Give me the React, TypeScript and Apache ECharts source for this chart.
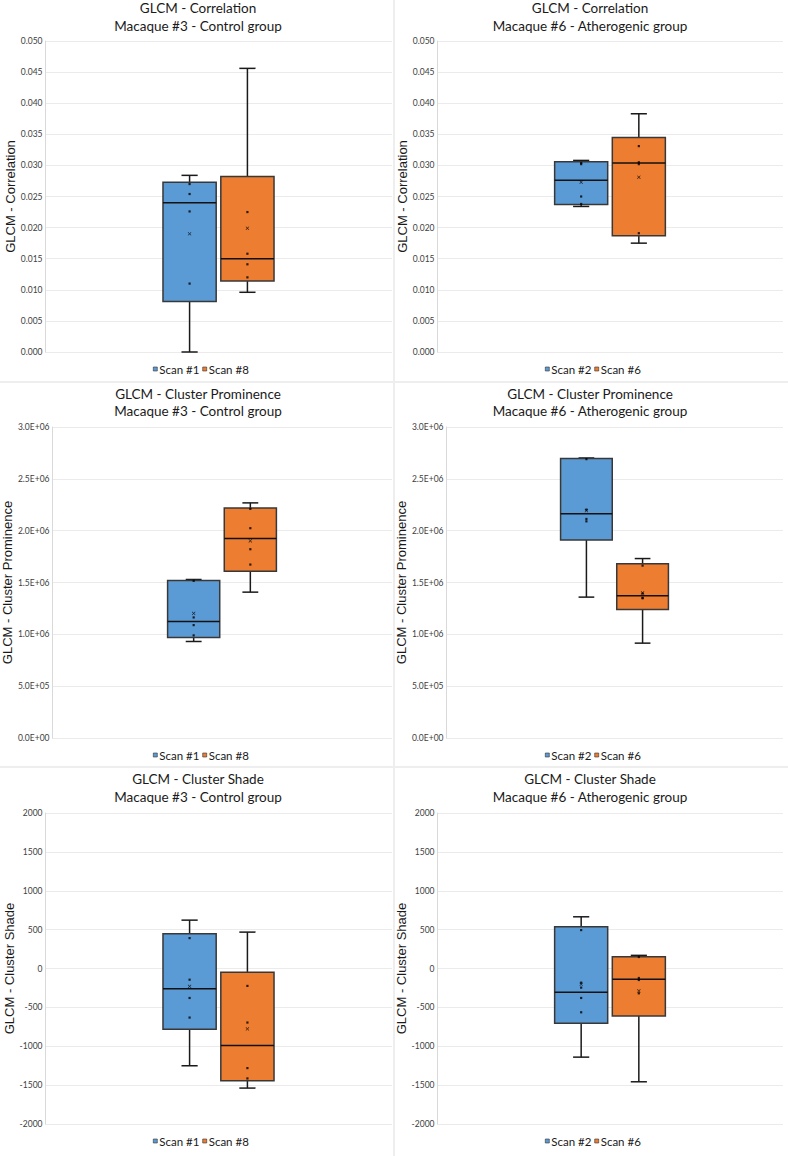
import React, { useEffect, useRef } from "react";
import * as echarts from "echarts";

// ---------- data ----------
const scanNamesM3 = ["Scan #1", "Scan #8"];
const scanNamesM6 = ["Scan #2", "Scan #6"];

// box stats: [min, Q1, median, Q3, max]
const corrM3Scan1Box = [0.0, 0.0081, 0.024, 0.0273, 0.0284];
const corrM3Scan1Pts = [0.011, 0.0226, 0.0254, 0.027];
const corrM3Scan1Mean = 0.019;
const corrM3Scan8Box = [0.0096, 0.0114, 0.015, 0.0282, 0.0456];
const corrM3Scan8Pts = [0.012, 0.0141, 0.0158, 0.0225];
const corrM3Scan8Mean = 0.0199;

const corrM6Scan2Box = [0.0234, 0.0237, 0.0276, 0.0306, 0.0308];
const corrM6Scan2Pts = [0.0238, 0.025, 0.0302, 0.0304];
const corrM6Scan2Mean = 0.0273;
const corrM6Scan6Box = [0.0175, 0.0187, 0.0304, 0.0345, 0.0383];
const corrM6Scan6Pts = [0.0191, 0.0302, 0.0305, 0.0331];
const corrM6Scan6Mean = 0.0281;

const cpM3Scan1Box = [931000, 970000, 1124000, 1519000, 1529000];
const cpM3Scan1Pts = [990000, 1089000, 1163000, 1516000];
const cpM3Scan1Mean = 1202000;
const cpM3Scan8Box = [1407000, 1609000, 1924000, 2219000, 2268000];
const cpM3Scan8Pts = [1673000, 1821000, 2024000, 2210000];
const cpM3Scan8Mean = 1902000;

const cpM6Scan2Box = [1359000, 1911000, 2162000, 2695000, 2701000];
const cpM6Scan2Pts = [2090000, 2113000, 2203000, 2690000];
const cpM6Scan2Mean = 2193000;
const cpM6Scan6Box = [915000, 1240000, 1371000, 1680000, 1731000];
const cpM6Scan6Pts = [1348000, 1352000, 1394000, 1663000];
const cpM6Scan6Mean = 1400000;

const csM3Scan1Box = [-1251, -781, -259, 447, 622];
const csM3Scan1Pts = [-631, -379, -144, 391];
const csM3Scan1Mean = -230;
const csM3Scan8Box = [-1538, -1444, -990, -49, 468];
const csM3Scan8Pts = [-1414, -1281, -695, -224];
const csM3Scan8Mean = -777;

const csM6Scan2Box = [-1140, -704, -306, 537, 665];
const csM6Scan2Pts = [-563, -379, -246, -182, 494];
const csM6Scan2Mean = -203;
const csM6Scan6Box = [-1457, -610, -139, 152, 169];
const csM6Scan6Pts = [-319, -148, -122, 148];
const csM6Scan6Mean = -288;

const titleCorr = "GLCM - Correlation";
const titleCP = "GLCM - Cluster Prominence";
const titleCS = "GLCM - Cluster Shade";
const subM3 = "Macaque #3 - Control group";
const subM6 = "Macaque #6 - Atherogenic group";

// ---------- styling / layout ----------
const BLUE = "#5B9BD5";
const ORANGE = "#ED7D31";
const COLORS = [BLUE, ORANGE];
const SLOTS = [2.5, 3.5];
const FONT = "Lato, 'Open Sans', sans-serif";

const fmtCorr = (v: number) => v.toFixed(3);
const fmtSci = (v: number) => {
  if (v === 0) return "0.0E+00";
  const e = Math.floor(Math.log10(Math.abs(v)) + 1e-9);
  const m = v / Math.pow(10, e);
  return `${m.toFixed(1)}E+${String(e).padStart(2, "0")}`;
};
const fmtInt = (v: number) => String(v);

type Panel = {
  col: number;
  row: number;
  gridLeft: number;
  gridWidth: number;
  title: string;
  sub: string;
  names: string[];
  boxes: number[][];
  pts: number[][];
  means: number[];
  min: number;
  max: number;
  interval: number;
  fmt: (v: number) => string;
  nameGap: number;
  legendLeft: number;
};

const ROW_TOP = [0, 385, 770];
const GRID_TOP = [41, 427, 813];
const GRID_H = 311;

const panels: Panel[] = [
  {
    col: 0, row: 0, gridLeft: 45, gridWidth: 347, title: titleCorr, sub: subM3, names: scanNamesM3,
    boxes: [corrM3Scan1Box, corrM3Scan8Box], pts: [corrM3Scan1Pts, corrM3Scan8Pts], means: [corrM3Scan1Mean, corrM3Scan8Mean],
    min: 0, max: 0.05, interval: 0.005, fmt: fmtCorr, nameGap: 26, legendLeft: 153,
  },
  {
    col: 1, row: 0, gridLeft: 437, gridWidth: 346, title: titleCorr, sub: subM6, names: scanNamesM6,
    boxes: [corrM6Scan2Box, corrM6Scan6Box], pts: [corrM6Scan2Pts, corrM6Scan6Pts], means: [corrM6Scan2Mean, corrM6Scan6Mean],
    min: 0, max: 0.05, interval: 0.005, fmt: fmtCorr, nameGap: 26, legendLeft: 545,
  },
  {
    col: 0, row: 1, gridLeft: 52, gridWidth: 340, title: titleCP, sub: subM3, names: scanNamesM3,
    boxes: [cpM3Scan1Box, cpM3Scan8Box], pts: [cpM3Scan1Pts, cpM3Scan8Pts], means: [cpM3Scan1Mean, cpM3Scan8Mean],
    min: 0, max: 3000000, interval: 500000, fmt: fmtSci, nameGap: 33, legendLeft: 153,
  },
  {
    col: 1, row: 1, gridLeft: 446, gridWidth: 337, title: titleCP, sub: subM6, names: scanNamesM6,
    boxes: [cpM6Scan2Box, cpM6Scan6Box], pts: [cpM6Scan2Pts, cpM6Scan6Pts], means: [cpM6Scan2Mean, cpM6Scan6Mean],
    min: 0, max: 3000000, interval: 500000, fmt: fmtSci, nameGap: 35, legendLeft: 545,
  },
  {
    col: 0, row: 2, gridLeft: 45, gridWidth: 347, title: titleCS, sub: subM3, names: scanNamesM3,
    boxes: [csM3Scan1Box, csM3Scan8Box], pts: [csM3Scan1Pts, csM3Scan8Pts], means: [csM3Scan1Mean, csM3Scan8Mean],
    min: -2000, max: 2000, interval: 500, fmt: fmtInt, nameGap: 26, legendLeft: 153,
  },
  {
    col: 1, row: 2, gridLeft: 437, gridWidth: 346, title: titleCS, sub: subM6, names: scanNamesM6,
    boxes: [csM6Scan2Box, csM6Scan6Box], pts: [csM6Scan2Pts, csM6Scan6Pts], means: [csM6Scan2Mean, csM6Scan6Mean],
    min: -2000, max: 2000, interval: 500, fmt: fmtInt, nameGap: 26, legendLeft: 545,
  },
];

const MEAN_SYMBOL =
  "path://M0,1.2L1.2,0L5,3.8L8.8,0L10,1.2L6.2,5L10,8.8L8.8,10L5,6.2L1.2,10L0,8.8L3.8,5Z";

const renderBox = (_params: any, api: any) => {
  const x = api.value(0);
  const c = (v: number) => api.coord([x, v]);
  const [xc, yMin] = c(api.value(1));
  const yQ1 = c(api.value(2))[1];
  const yMed = c(api.value(3))[1];
  const yQ3 = c(api.value(4))[1];
  const yMax = c(api.value(5))[1];
  const band = api.size([1, 0])[0];
  const hw = band * 0.46;
  const cw = band * 0.14;
  const fill = api.visual("color");
  const ls = { stroke: "#1a1a1a", lineWidth: 1.5 };
  return {
    type: "group",
    children: [
      { type: "line", shape: { x1: xc, y1: yQ3, x2: xc, y2: yMax }, style: ls },
      { type: "line", shape: { x1: xc, y1: yQ1, x2: xc, y2: yMin }, style: ls },
      { type: "line", shape: { x1: xc - cw, y1: yMax, x2: xc + cw, y2: yMax }, style: ls },
      { type: "line", shape: { x1: xc - cw, y1: yMin, x2: xc + cw, y2: yMin }, style: ls },
      {
        type: "rect",
        shape: { x: xc - hw, y: yQ3, width: hw * 2, height: yQ1 - yQ3 },
        style: { fill, stroke: "#383838", lineWidth: 1.5 },
      },
      { type: "line", shape: { x1: xc - hw, y1: yMed, x2: xc + hw, y2: yMed }, style: { stroke: "#111", lineWidth: 1.5 } },
    ],
  };
};

function buildOption() {
  const grid: any[] = [];
  const xAxis: any[] = [];
  const yAxis: any[] = [];
  const series: any[] = [];
  const legend: any[] = [];
  const graphic: any[] = [];

  panels.forEach((p, i) => {
    const ox = p.col * 394;
    const oy = ROW_TOP[p.row];
    grid.push({ left: p.gridLeft, top: GRID_TOP[p.row], width: p.gridWidth, height: GRID_H });
    xAxis.push({ type: "value", gridIndex: i, min: 0, max: 6, show: false });
    yAxis.push({
      type: "value",
      gridIndex: i,
      min: p.min,
      max: p.max,
      interval: p.interval,
      axisLine: { show: true, lineStyle: { color: "#d9d9d9", width: 1 } },
      axisTick: { show: false },
      splitLine: { show: true, lineStyle: { color: "#ebebeb", width: 1 } },
      axisLabel: { fontSize: 8.5, color: "#404040", margin: 2.5, formatter: p.fmt, fontFamily: FONT },
      name: p.title,
      nameLocation: "middle",
      nameGap: p.nameGap,
      nameTextStyle: { fontSize: 13, fontFamily: "'Liberation Sans', Arial, sans-serif", color: "#1a1a1a" },
    });
    p.names.forEach((nm, k) => {
      series.push({
        type: "custom",
        name: nm,
        xAxisIndex: i,
        yAxisIndex: i,
        itemStyle: { color: COLORS[k], borderColor: "#333", borderWidth: 0.6 },
        renderItem: renderBox,
        data: [[SLOTS[k], ...p.boxes[k]]],
        z: 2,
        silent: true,
      });
      series.push({
        type: "scatter",
        xAxisIndex: i,
        yAxisIndex: i,
        symbol: "rect",
        symbolSize: 2.2,
        itemStyle: { color: "#000" },
        data: p.pts[k].map((v) => [SLOTS[k], v]),
        z: 3,
        silent: true,
      });
      series.push({
        type: "scatter",
        xAxisIndex: i,
        yAxisIndex: i,
        symbol: MEAN_SYMBOL,
        symbolSize: 3.6,
        itemStyle: { color: "#000" },
        data: [[SLOTS[k], p.means[k]]],
        z: 4,
        silent: true,
      });
    });
    legend.push({
      data: p.names,
      left: p.legendLeft,
      top: oy + 363 + p.row * 1,
      padding: 0,
      itemGap: 3,
      itemWidth: 4,
      itemHeight: 4,
      icon: "rect",
      selectedMode: false,
      itemStyle: { borderColor: "#333", borderWidth: 0.6 },
      textStyle: { fontSize: 11.5, fontFamily: FONT, color: "#1a1a1a", padding: [0, 0, 0, -3] },
    });
    const tcx = ox + (p.col === 0 ? 198 : 196);
    graphic.push({
      type: "text",
      x: tcx,
      y: oy + 8 + p.row * 0.6,
      style: { text: p.title, textAlign: "center", textVerticalAlign: "middle", font: `13.5px ${FONT}`, fill: "#1a1a1a" },
    });
    graphic.push({
      type: "text",
      x: tcx,
      y: oy + 25.5 + p.row * 0.6,
      style: { text: p.sub, textAlign: "center", textVerticalAlign: "middle", font: `13.5px ${FONT}`, fill: "#1a1a1a" },
    });
  });

  // panel separators
  graphic.push({ type: "rect", shape: { x: 393, y: 0, width: 2, height: 1156 }, style: { fill: "#eeeeee" }, z: -1 });
  graphic.push({ type: "rect", shape: { x: 0, y: 381, width: 788, height: 2 }, style: { fill: "#eeeeee" }, z: -1 });
  graphic.push({ type: "rect", shape: { x: 0, y: 766, width: 788, height: 2 }, style: { fill: "#eeeeee" }, z: -1 });

  return {
    animation: false,
    backgroundColor: "#ffffff",
    grid,
    xAxis,
    yAxis,
    legend,
    series,
    graphic,
  };
}

export default function App() {
  const ref = useRef<HTMLDivElement>(null);
  useEffect(() => {
    document.body.style.margin = "0";
    if (!ref.current) return;
    const chart = echarts.init(ref.current, null, { renderer: "svg" });
    chart.setOption(buildOption() as any);
    return () => chart.dispose();
  }, []);
  return <div ref={ref} style={{ width: 788, height: 1156 }} />;
}
